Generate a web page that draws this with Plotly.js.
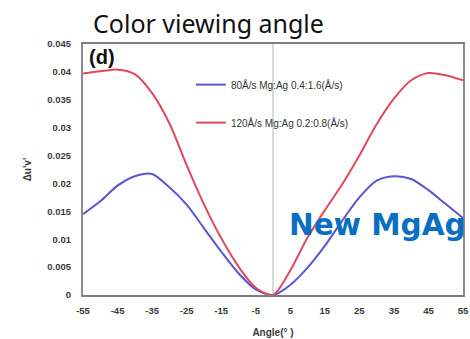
<!DOCTYPE html>
<html><head><meta charset="utf-8">
<script src="https://cdn.plot.ly/plotly-3.0.1.min.js"></script>
<style>html,body{margin:0;padding:0;background:#fff}#chart{width:470px;height:339px}</style>
</head><body><div id="chart"></div>
<script>
const angles = [-55,-50,-45,-40,-35,-30,-25,-20,-15,-10,-5,0,5,10,15,20,25,30,35,40,45,50,55];
const series80 = [0.0145,0.0168,0.0196,0.0213,0.0217,0.0193,0.0162,0.0120,0.0078,0.0039,0.0010,0.0000,0.0018,0.0049,0.0088,0.0133,0.0175,0.0205,0.0213,0.0208,0.0188,0.0163,0.0138];
const series120 = [0.0397,0.0401,0.0404,0.0396,0.0362,0.0308,0.0233,0.0163,0.0102,0.0051,0.0013,0.0000,0.0044,0.0103,0.0152,0.0198,0.0250,0.0306,0.0352,0.0385,0.0398,0.0394,0.0385];
const names = ["80Å/s Mg:Ag 0.4:1.6(Å/s)","120Å/s Mg:Ag 0.2:0.8(Å/s)"];
const xTicks = [-55,-45,-35,-25,-15,-5,5,15,25,35,45,55];
const yTicks = [0,0.005,0.01,0.015,0.02,0.025,0.03,0.035,0.04,0.045];
const yTickText = ["0","0.005","0.01","0.015","0.02","0.025","0.03","0.035","0.04","0.045"];

const tickFont = {family:"Liberation Sans, Arial, sans-serif", size:9.5, color:"#3a3a3a", weight:"bold"};
const traces = [
  {x:angles, y:series80, name:names[0], type:"scatter", mode:"lines", legendgroup:"a",
   line:{color:"#5a55d2", width:2, shape:"spline", smoothing:0.8}},
  {x:angles, y:series120, name:names[1], type:"scatter", mode:"lines", legendgroup:"b",
   line:{color:"#e2485c", width:2, shape:"spline", smoothing:0.8}}
];
const layout = {
  width:470, height:339,
  margin:{l:83, r:7, t:44, b:44},
  paper_bgcolor:"#fff", plot_bgcolor:"#fff",
  title:{text:"Color viewing angle", xref:"container", x:93/470, xanchor:"left", yref:"container", y:1-24/339, yanchor:"middle",
         font:{family:"Noto Sans, Open Sans, sans-serif", size:25, color:"#111"}},
  showlegend:true,
  legend:{x:0.284, y:0.896, xanchor:"left", yanchor:"top", bgcolor:"rgba(0,0,0,0)",
          font:{family:"Liberation Sans, Arial, sans-serif", size:10, color:"#333"},
          tracegroupgap:19, traceorder:"grouped"},
  xaxis:{range:[-55,55], tickvals:xTicks, ticktext:xTicks.map(String), showgrid:false,
         zeroline:true, zerolinecolor:"#dadada", zerolinewidth:2,
         showline:true, linecolor:"#7f7f7f", linewidth:2, mirror:true,
         ticks:"outside", ticklen:6, tickcolor:"rgba(0,0,0,0)", tickfont:tickFont,
         title:{text:"Angle(° )", standoff:14, font:{family:"Liberation Sans, Arial, sans-serif", size:10, color:"#3a3a3a", weight:"bold"}}},
  yaxis:{range:[0,0.045], tickvals:yTicks, ticktext:yTickText, showgrid:false, zeroline:false,
         showline:true, linecolor:"#8c8c8c", linewidth:2, mirror:true,
         ticks:"outside", ticklen:8, tickcolor:"rgba(0,0,0,0)", tickfont:tickFont,
         title:{text:"Δu'v'", standoff:14, font:{family:"Liberation Sans, Arial, sans-serif", size:10, color:"#3a3a3a", weight:"bold"}}},
  annotations:[
    {text:"<b>(d)</b>", xref:"paper", yref:"paper", x:(87-83)/380, y:1-(57-44)/251, xanchor:"left", yanchor:"middle",
     showarrow:false, font:{family:"Liberation Sans, Arial, sans-serif", size:20, color:"#111"}},
    {text:"<b>New MgAg</b>", xref:"paper", yref:"paper", x:(287-83)/380, y:(295-225)/251, xanchor:"left", yanchor:"middle",
     showarrow:false, font:{family:"DejaVu Sans, sans-serif", size:29.5, color:"#0a6fc2"}}
  ]
};
Plotly.newPlot("chart", traces, layout, {displayModeBar:false, staticPlot:true});
</script></body></html>
